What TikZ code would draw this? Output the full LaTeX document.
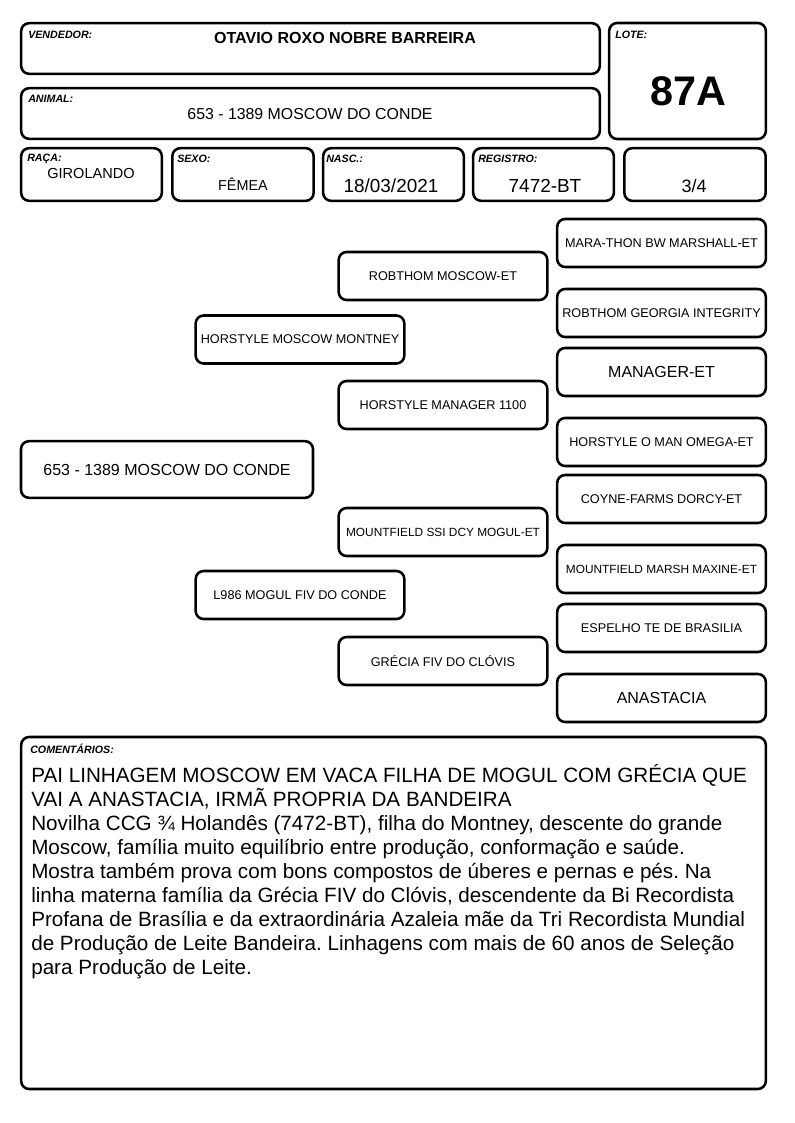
\documentclass[tikz,border=0pt]{standalone}
\usepackage{fontspec}
\setmainfont{Liberation Sans}
\frenchspacing
\begin{document}
\begin{tikzpicture}[x=0.75pt, y=-0.75pt,
	every node/.style={font=\fontsize{9.5}{11}\selectfont},
	box/.style={draw, line width=1.9pt, rounded corners=6pt, inner sep=0pt},
	tag/.style={anchor=north west, inner sep=0pt, font=\fontsize{8}{9}\selectfont\bfseries\itshape},
	gen/.style={box, minimum width=156.5pt, minimum height=36pt},
	big/.style={font=\fontsize{12}{14}\selectfont},
	small/.style={font=\fontsize{8.9}{10}\selectfont}]
	\useasboundingbox (0,0) rectangle (794,1123);
	% header
	\node[box, minimum width=434pt, minimum height=38pt] (vend) at (310.5,48.5) {};
	\node[tag] (vendtag) at (28,31) {VENDEDOR:};
	\node[font=\fontsize{12}{14}\selectfont\bfseries] (vendname) at (345,38) {OTAVIO ROXO NOBRE BARREIRA};
	\node[box, minimum width=117.5pt, minimum height=87pt] (lote) at (687.5,81) {};
	\node[tag] (lotetag) at (615,31) {LOTE:};
	\node[font=\fontsize{31}{34}\selectfont\bfseries] (lotenum) at (688,91) {87A};
	\node[box, minimum width=434pt, minimum height=38pt] (animal) at (310.5,113.5) {};
	\node[tag] (animaltag) at (28,95) {ANIMAL:};
	\node[font=\fontsize{11.9}{13}\selectfont] (animalname) at (310,114) {653 - 1389 MOSCOW DO CONDE};
	% info row
	\node[box, minimum width=105.5pt, minimum height=39.5pt] (raca) at (91.5,174.5) {};
	\node[tag] (racatag) at (27,154) {RAÇA:};
	\node[font=\fontsize{10.9}{13}\selectfont] (racaval) at (91,173) {GIROLANDO};
	\node[box, minimum width=106pt, minimum height=39.5pt] (sexo) at (243,174.5) {};
	\node[tag] (sexotag) at (177,155) {SEXO:};
	\node[font=\fontsize{10.8}{13}\selectfont] (sexoval) at (243,184) {FÊMEA};
	\node[box, minimum width=105.5pt, minimum height=39.5pt] (nasc) at (393.5,174.5) {};
	\node[tag] (nasctag) at (326,155) {NASC.:};
	\node[font=\fontsize{14.2}{16}\selectfont] (nascval) at (391,186) {18/03/2021};
	\node[box, minimum width=105.5pt, minimum height=39.5pt] (reg) at (543.5,174.5) {};
	\node[tag] (regtag) at (478,155) {REGISTRO:};
	\node[font=\fontsize{14.2}{16}\selectfont] (regval) at (545,186) {7472-BT};
	\node[box, minimum width=106pt, minimum height=39.5pt] (grau) at (695,174.5) {};
	\node[font=\fontsize{13.5}{15}\selectfont] (grauval) at (694,186) {3/4};
	% pedigree
	\node[box, big, minimum width=219pt, minimum height=42.5pt] (animalp) at (167,469.5) {653 - 1389 MOSCOW DO CONDE};
	\node[gen] (pai) at (300,339.5) {HORSTYLE MOSCOW MONTNEY};
	\node[gen] (mae) at (300,595) {L986 MOGUL FIV DO CONDE};
	\node[gen] (avop) at (443,276) {ROBTHOM MOSCOW-ET};
	\node[gen] (avomp) at (443,405) {HORSTYLE MANAGER 1100};
	\node[gen, small] (avom) at (443,532) {MOUNTFIELD SSI DCY MOGUL-ET};
	\node[gen] (avomm) at (443,661) {GRÉCIA FIV DO CLÓVIS};
	\node[gen] (bis1) at (661.5,243) {MARA-THON BW MARSHALL-ET};
	\node[gen] (bis2) at (661.5,313) {ROBTHOM GEORGIA INTEGRITY};
	\node[gen, big] (bis3) at (661.5,372) {MANAGER-ET};
	\node[gen] (bis4) at (661.5,442) {HORSTYLE O MAN OMEGA-ET};
	\node[gen] (bis5) at (661.5,499) {COYNE-FARMS DORCY-ET};
	\node[gen, small] (bis6) at (661.5,569) {MOUNTFIELD MARSH MAXINE-ET};
	\node[gen] (bis7) at (661.5,628) {ESPELHO TE DE BRASILIA};
	\node[gen, big] (bis8) at (661.5,698) {ANASTACIA};
	% comments
	\node[box, minimum width=558.5pt, minimum height=264pt] (coment) at (393.5,913) {};
	\node[tag] (comenttag) at (30,744) {COMENTÁRIOS:};
	\node[anchor=north west, inner sep=0pt, align=left, font=\fontsize{15.5}{18}\selectfont] (comenttxt) at (31,764) {PAI LINHAGEM MOSCOW EM VACA FILHA DE MOGUL COM GRÉCIA QUE\\
		VAI A ANASTACIA, IRMÃ PROPRIA DA BANDEIRA\\
		Novilha CCG ¾ Holandês (7472-BT), filha do Montney, descente do grande\\
		Moscow, família muito equilíbrio entre produção, conformação e saúde.\\
		Mostra também prova com bons compostos de úberes e pernas e pés. Na\\
		linha materna família da Grécia FIV do Clóvis, descendente da Bi Recordista\\
		Profana de Brasília e da extraordinária Azaleia mãe da Tri Recordista Mundial\\
		de Produção de Leite Bandeira. Linhagens com mais de 60 anos de Seleção\\
		para Produção de Leite.};
\end{tikzpicture}
\end{document}
